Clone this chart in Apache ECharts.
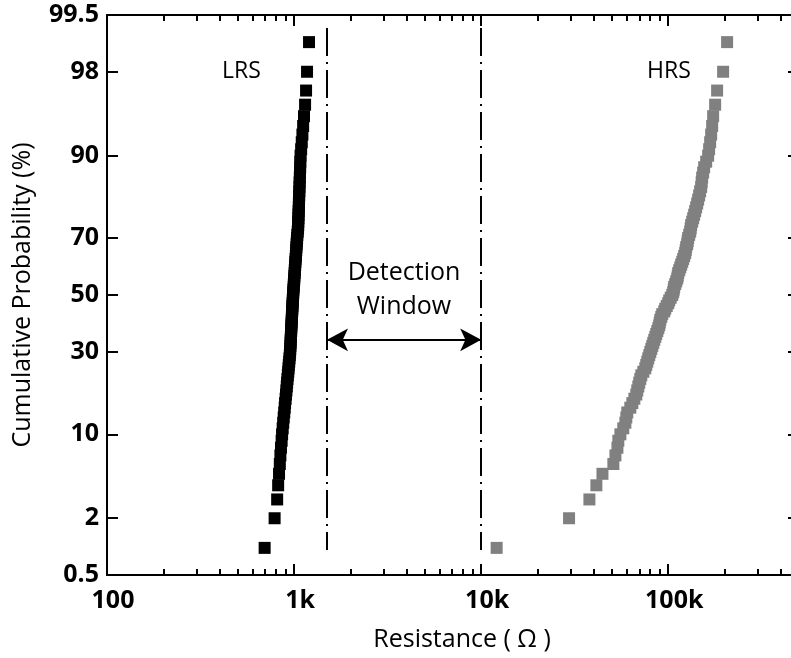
<!DOCTYPE html>
<html>
<head>
<meta charset="utf-8">
<script src="https://cdn.jsdelivr.net/npm/echarts@6/dist/echarts.min.js"></script>
<style>
html,body{margin:0;padding:0;background:#fff;}
#chart{width:791px;height:658px;}
</style>
</head>
<body>
<div id="chart"></div>
<script>
// ---------------- data ----------------
const cumProb = [1,2,3,4,5,6,7,8,9,10,11,12,13,14,15,16,17,18,19,20,
  21,22,23,24,25,26,27,28,29,30,31,32,33,34,35,36,37,38,39,40,
  41,42,43,44,45,46,47,48,49,50,51,52,53,54,55,56,57,58,59,60,
  61,62,63,64,65,66,67,68,69,70,71,72,73,74,75,76,77,78,79,80,
  81,82,83,84,85,86,87,88,89,90,91,92,93,94,95,96,97,98,99];

const lrsResistance = [696,787,812,822,831,839,845,851,858,863,
  869,875,880,886,891,895,901,905,910,914,
  918,922,926,931,934,937,942,945,949,952,
  954,956,958,959,961,963,965,966,968,970,
  972,973,975,977,979,980,982,984,986,988,
  990,992,995,997,1000,1002,1004,1007,1009,1011,
  1014,1016,1019,1022,1024,1027,1029,1032,1035,1038,
  1041,1046,1050,1052,1053,1055,1056,1058,1060,1061,
  1063,1065,1067,1069,1071,1073,1076,1078,1080,1083,
  1091,1099,1108,1118,1130,1145,1159,1173,1202];

const hrsResistance = [12100,29500,37900,41300,44500,50900,52200,53500,54100,55500,
  57500,59000,59700,60400,62700,64300,65900,67500,68300,69200,
  70000,70900,71800,73600,75400,76300,77300,78200,79200,80200,
  81200,82200,83200,84200,85300,86300,87400,88500,89500,90100,
  90700,91800,92900,95200,96400,98200,100000,101200,103100,105000,
  106300,107000,107600,109000,110300,111700,112400,113100,114500,115900,
  117300,118800,120200,121700,123200,124000,124700,126300,127000,127800,
  129400,131000,131800,132600,134300,135900,137600,139300,141000,142800,
  144500,146300,148100,150000,150900,151800,153700,155600,159500,163400,
  165400,167500,169600,171700,173800,178100,182500,196500,206400];

const yTickValues = [0.5, 2, 10, 30, 50, 70, 90, 98, 99.5];
const yTickLabels = ['0.5', '2', '10', '30', '50', '70', '90', '98', '99.5'];
const xTickValues = [100, 1000, 10000, 100000];
const xTickLabels = ['100', '1k', '10k', '100k'];
const xRange = [100, 500000];

const windowBounds = [1500, 10000];     // detection window edges (ohm)
const windowLineProb = [99.3, 0.95];    // vertical extent of the dash-dot lines (%)
const arrowProb = 34;                   // level of the double arrow (%)

// ---------------- normal probability scale ----------------
function probit(pct) {
  const p = pct / 100;
  const a=[-3.969683028665376e+01,2.209460984245205e+02,-2.759285104469687e+02,1.383577518672690e+02,-3.066479806614716e+01,2.506628277459239e+00];
  const b=[-5.447609879822406e+01,1.615858368580409e+02,-1.556989798598866e+02,6.680131188771972e+01,-1.328068155288572e+01];
  const c=[-7.784894002430293e-03,-3.223964580411365e-01,-2.400758277161838e+00,-2.549671029745625e+00,4.374664141464968e+00,2.938163982698783e+00];
  const d=[7.784695709041462e-03,3.224671290700398e-01,2.445134137142996e+00,3.754408661907416e+00];
  const pl = 0.02425, ph = 1 - pl;
  let q, r;
  if (p < pl) {
    q = Math.sqrt(-2 * Math.log(p));
    return (((((c[0]*q+c[1])*q+c[2])*q+c[3])*q+c[4])*q+c[5]) / ((((d[0]*q+d[1])*q+d[2])*q+d[3])*q+1);
  }
  if (p > ph) {
    q = Math.sqrt(-2 * Math.log(1 - p));
    return -(((((c[0]*q+c[1])*q+c[2])*q+c[3])*q+c[4])*q+c[5]) / ((((d[0]*q+d[1])*q+d[2])*q+d[3])*q+1);
  }
  q = p - 0.5; r = q * q;
  return (((((a[0]*r+a[1])*r+a[2])*r+a[3])*r+a[4])*r+a[5])*q / (((((b[0]*r+b[1])*r+b[2])*r+b[3])*r+b[4])*r+1);
}

const yMin = probit(yTickValues[0]);
const yMax = probit(yTickValues[yTickValues.length - 1]);
const yTickZ = yTickValues.map(probit);

const logMin = Math.log10(xRange[0]);
const logMax = Math.log10(xRange[1]);
const xMajorLog = xTickValues.map(v => Math.log10(v));
const xMinorLog = [];
for (let dec = 100; dec < xRange[1]; dec *= 10) {
  for (let k = 2; k <= 9; k++) {
    const v = k * dec;
    if (v < xRange[1]) xMinorLog.push(Math.log10(v));
  }
}

function nearestLabel(v, vals, labels) {
  let best = 0, bd = Infinity;
  vals.forEach((t, i) => { const dd = Math.abs(t - v); if (dd < bd) { bd = dd; best = i; } });
  return labels[best];
}

const FONT = 'Open Sans';
const black = '#000000';

const lrsData = lrsResistance.map((r, i) => [r, probit(cumProb[i])]);
const hrsData = hrsResistance.map((r, i) => [r, probit(cumProb[i])]);

function tickAxis(pos, values, len, withLabels, withLine) {
  return {
    type: 'value', gridIndex: 0, position: pos, min: logMin, max: logMax,
    axisLine: { show: !!withLine, onZero: false, lineStyle: { color: black, width: 2 } },
    axisTick: { show: true, inside: true, length: len, customValues: values,
      lineStyle: { color: black, width: 2 } },
    axisLabel: withLabels ? {
      show: true, customValues: values, margin: 13,
      color: black, fontFamily: FONT, fontWeight: 'bold', fontSize: 25,
      padding: [0, 0, 0, 12],
      formatter: v => nearestLabel(v, xMajorLog, xTickLabels)
    } : { show: false },
    splitLine: { show: false }
  };
}

const chart = echarts.init(document.getElementById('chart'), null, { renderer: 'canvas' });
chart.setOption({
  animation: false,
  backgroundColor: '#ffffff',
  grid: { left: 107, top: 15, width: 692, height: 560, containLabel: false, outerBoundsMode: 'none' },
  xAxis: [
    {
      type: 'log', logBase: 10, min: xRange[0], max: xRange[1], position: 'bottom',
      axisLine: { show: true, onZero: false, lineStyle: { color: black, width: 2 } },
      axisTick: { show: false }, axisLabel: { show: false }, splitLine: { show: false },
      name: 'Resistance ( \u03A9 )', nameLocation: 'middle', nameGap: 52,
      nameTextStyle: { color: black, fontFamily: FONT, fontSize: 25, padding: [0, 0, 0, 18] }
    },
    tickAxis('bottom', xMajorLog, 11, true, false),
    tickAxis('bottom', xMinorLog, 6, false, false),
    tickAxis('top', xMajorLog, 11, false, true),
    tickAxis('top', xMinorLog, 6, false, false)
  ],
  yAxis: [
    {
      type: 'value', position: 'left', min: yMin, max: yMax,
      axisLine: { show: true, onZero: false, lineStyle: { color: black, width: 2 } },
      axisTick: { show: true, inside: true, length: 11, customValues: yTickZ,
        lineStyle: { color: black, width: 2 } },
      axisLabel: { show: true, customValues: yTickZ, margin: 8, color: black,
        fontFamily: FONT, fontWeight: 'bold', fontSize: 25,
        formatter: v => nearestLabel(v, yTickZ, yTickLabels) },
      splitLine: { show: false },
      name: 'Cumulative Probability (%)', nameLocation: 'middle', nameGap: 72,
      nameTextStyle: { color: black, fontFamily: FONT, fontSize: 25 }
    },
    {
      type: 'value', position: 'right', min: yMin, max: yMax,
      axisLine: { show: true, onZero: false, lineStyle: { color: black, width: 2 } },
      axisTick: { show: true, inside: true, length: 11, customValues: yTickZ,
        lineStyle: { color: black, width: 2 } },
      axisLabel: { show: false }, splitLine: { show: false }
    }
  ],
  series: [
    {
      name: 'LRS', type: 'scatter', xAxisIndex: 0, yAxisIndex: 0,
      symbol: 'rect', symbolSize: 12, itemStyle: { color: '#000000', opacity: 1 },
      data: lrsData, z: 3,
      markLine: {
        silent: true, animation: false, label: { show: false },
        symbol: ['none', 'none'],
        lineStyle: { color: black, width: 2, type: [28, 6, 2, 6] },
        data: [
          [{ coord: [windowBounds[0], probit(windowLineProb[0])] }, { coord: [windowBounds[0], probit(windowLineProb[1])] }],
          [{ coord: [windowBounds[1], probit(windowLineProb[0])] }, { coord: [windowBounds[1], probit(windowLineProb[1])] }],
          [{ coord: [windowBounds[0], probit(arrowProb)], symbol: 'arrow', symbolSize: [17, 21],
             lineStyle: { type: 'solid', width: 2, color: black } },
           { coord: [windowBounds[1], probit(arrowProb)], symbol: 'arrow', symbolSize: [17, 21] }]
        ]
      }
    },
    {
      name: 'HRS', type: 'scatter', xAxisIndex: 0, yAxisIndex: 0,
      symbol: 'rect', symbolSize: 12, itemStyle: { color: '#808080', opacity: 1 },
      data: hrsData, z: 3
    }
  ],
  graphic: [
    { type: 'text', left: 222, top: 60, style: { text: 'LRS', fill: black, font: '23px "Open Sans"' } },
    { type: 'text', left: 647, top: 60, style: { text: 'HRS', fill: black, font: '23px "Open Sans"' } },
    { type: 'text', x: 404, y: 290, style: { text: 'Detection\nWindow', fill: black,
      font: '25px "Open Sans"', align: 'center', verticalAlign: 'middle', lineHeight: 34 } }
  ]
});
</script>
</body>
</html>
